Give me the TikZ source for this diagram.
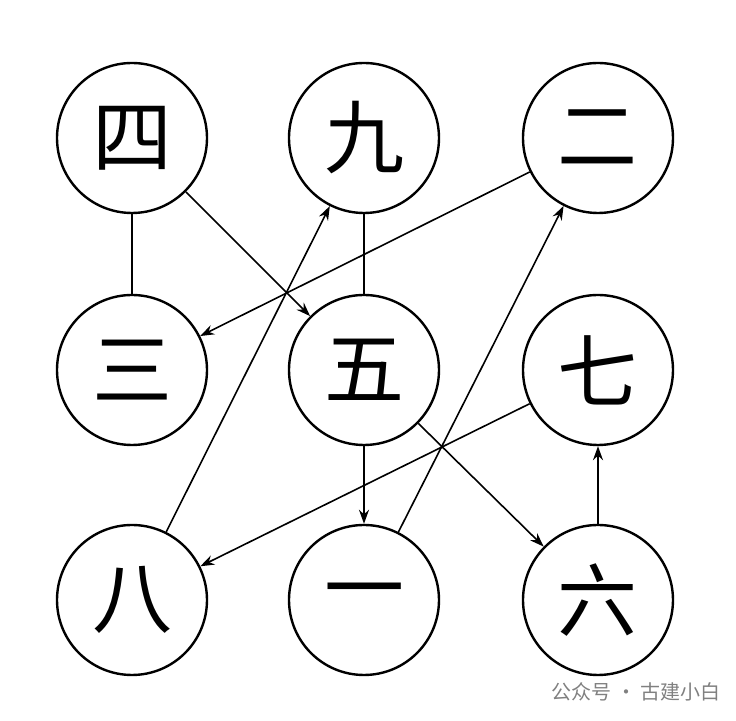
\documentclass[tikz,border=0pt]{standalone}
\usepackage{fontspec}
\newfontfamily\cjk{Noto Sans CJK SC}
\usetikzlibrary{arrows.meta}
\tikzset{
  num/.style={draw, circle, line width=1.2pt, minimum size=75pt, inner sep=0pt, font=\cjk\fontsize{40}{40}\selectfont},
  lnk/.style={line width=0.8pt},
  arr/.style={line width=0.8pt, -{Stealth[length=7pt,width=5pt]}}
}
\begin{document}
\begin{tikzpicture}[x=0.5pt,y=-0.5pt]
\useasboundingbox (0,0) rectangle (736,721);

\node[num] (n4) at (132,138) {四};
\node[num] (n9) at (364,138) {九};
\node[num] (n2) at (598,138) {二};
\node[num] (n3) at (132,370) {三};
\node[num] (n5) at (364,370) {五};
\node[num] (n7) at (598,370) {七};
\node[num] (n8) at (132,600) {八};
\node[num] (n1) at (364,600) {一};
\node[num] (n6) at (598,600) {六};

\draw[lnk] (n4) -- (n3);
\draw[lnk] (n9) -- (n5);

\draw[arr] (n4) -- (n5);
\draw[arr] (n2) -- (n3);
\draw[arr] (n8) -- (n9);
\draw[arr] (n1) -- (n2);
\draw[arr] (n5) -- (n1);
\draw[arr] (n5) -- (n6);
\draw[arr] (n7) -- (n8);
\draw[arr] (n6) -- (n7);

\node[text=gray, font=\cjk\fontsize{10}{10}\selectfont, anchor=east] (wm) at (728,692) {公众号 · 古建小白};
\end{tikzpicture}
\end{document}
